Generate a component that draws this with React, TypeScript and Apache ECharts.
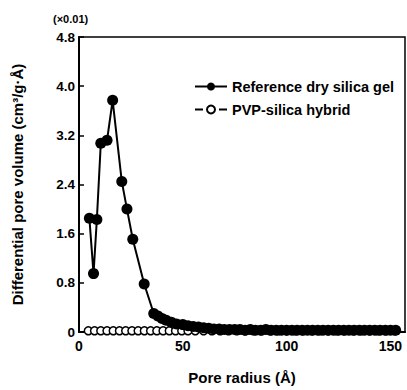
import React, { useEffect, useRef } from "react";
import * as echarts from "echarts";

const seriesNames = ["Reference dry silica gel", "PVP-silica hybrid"];
const yTicks = [0, 0.8, 1.6, 2.4, 3.2, 4.0, 4.8];
const xTicks = [0, 50, 100, 150];

// Reference dry silica gel: [pore radius (Å), differential pore volume (×0.01)]
const referenceGel: [number, number][] = [
  [5.0, 1.85], [7.0, 0.95], [8.6, 1.83], [10.5, 3.07], [13.5, 3.12], [16.2, 3.77],
  [20.6, 2.45], [23.1, 2.0], [25.9, 1.51], [31.4, 0.78], [36.0, 0.3], [38.0, 0.26],
  [40.0, 0.22], [42.0, 0.19], [44.5, 0.16], [47.0, 0.13], [50.0, 0.12], [52.5, 0.1],
  [55.0, 0.09], [57.5, 0.08], [60.0, 0.07], [62.5, 0.06], [65.0, 0.05], [67.5, 0.05],
  [70.0, 0.04], [72.5, 0.04], [75.0, 0.04], [77.5, 0.04], [80.0, 0.03], [82.5, 0.04],
  [85.0, 0.03], [87.5, 0.03], [90.0, 0.04], [92.5, 0.03], [95.0, 0.03], [97.5, 0.03],
  [100.0, 0.03], [102.5, 0.03], [105.0, 0.03], [107.5, 0.03], [110.0, 0.03], [112.5, 0.03],
  [115.0, 0.03], [117.5, 0.03], [120.0, 0.03], [122.5, 0.03], [125.0, 0.03], [127.5, 0.03],
  [130.0, 0.03], [132.5, 0.03], [135.0, 0.03], [137.5, 0.03], [140.0, 0.03], [142.5, 0.03],
  [145.0, 0.03], [147.5, 0.03], [150.0, 0.03], [152.5, 0.03],
];

// PVP-silica hybrid
const pvpHybrid: [number, number][] = [
  [4.5, 0.02], [7.5, 0.02], [10.5, 0.02], [13.5, 0.02], [16.5, 0.02], [19.5, 0.02],
  [22.5, 0.02], [25.5, 0.02], [28.5, 0.02], [31.5, 0.02], [34.5, 0.02], [37.5, 0.02],
  [40.5, 0.02], [43.5, 0.02], [46.5, 0.02], [49.5, 0.02], [52.5, 0.02], [56.0, 0.02],
  [60.0, 0.02], [64.0, 0.02], [68.0, 0.02], [72.0, 0.02], [76.0, 0.02], [80.0, 0.02],
  [84.0, 0.02], [88.0, 0.02], [92.0, 0.02], [96.0, 0.02], [100.0, 0.02], [104.0, 0.02],
  [108.0, 0.02], [112.0, 0.02], [116.0, 0.02], [120.0, 0.02], [124.0, 0.02], [128.0, 0.02],
  [132.0, 0.02], [136.0, 0.02], [140.0, 0.02], [144.0, 0.02], [148.0, 0.02], [152.0, 0.02],
];

const FONT = "'Liberation Sans', Arial, sans-serif";

export default function App() {
  const ref = useRef<HTMLDivElement>(null);
  useEffect(() => {
    if (!ref.current) return;
    const chart = echarts.init(ref.current, undefined, { renderer: "svg" });
    chart.setOption({
      animation: false,
      backgroundColor: "#ffffff",
      textStyle: { fontFamily: FONT },
      grid: {
        left: 79,
        top: 37,
        right: 2,
        bottom: 54,
        show: true,
        borderColor: "#000",
        borderWidth: 1.5,
      },
      graphic: [
        {
          type: "text",
          left: 53,
          top: 13,
          style: { text: "(×0.01)", fontSize: 11, fontWeight: "bold", fill: "#000", fontFamily: FONT },
        },
      ],
      legend: {
        orient: "vertical",
        left: 189,
        top: 74,
        itemWidth: 32,
        itemHeight: 10,
        itemGap: 8,
        textStyle: { fontSize: 14.5, fontWeight: "bold", color: "#000", fontFamily: FONT },
        data: [
          { name: seriesNames[0] },
          { name: seriesNames[1] },
        ],
      },
      xAxis: {
        type: "value",
        min: xTicks[0],
        max: 157,
        interval: 50,
        name: "Pore radius (Å)",
        nameLocation: "middle",
        nameGap: 38,
        nameTextStyle: { fontSize: 15, fontWeight: "bold", color: "#000", fontFamily: FONT },
        axisLine: { show: true, lineStyle: { color: "#000", width: 2 } },
        axisTick: { show: false },
        axisLabel: {
          showMaxLabel: false,
          fontSize: 14,
          fontWeight: "bold",
          color: "#000",
          margin: 7,
          formatter: (v: number) => (xTicks.includes(v) ? String(v) : ""),
        },
        splitLine: { show: false },
      },
      yAxis: {
        type: "value",
        min: yTicks[0],
        max: yTicks[yTicks.length - 1],
        interval: 0.8,
        name: "Differential pore volume (cm³/g·Å)",
        nameLocation: "middle",
        nameGap: 54,
        nameTextStyle: { fontSize: 15, fontWeight: "bold", color: "#000", fontFamily: FONT },
        axisLine: { show: true, lineStyle: { color: "#000", width: 2 } },
        axisTick: { show: true, inside: true, length: 5, lineStyle: { color: "#000", width: 1.5 } },
        axisLabel: {
          fontSize: 13.5,
          fontWeight: "bold",
          color: "#000",
          margin: 4,
          formatter: (v: number) => {
            const r = Math.round(v * 10) / 10;
            return r === 0 ? "0" : r.toFixed(1);
          },
        },
        splitLine: { show: false },
      },
      series: [
        {
          name: seriesNames[1],
          type: "line",
          data: pvpHybrid,
          symbol: "circle",
          symbolSize: 8,
          lineStyle: { color: "#000", width: 1, type: "dashed" },
          itemStyle: { color: "#fff", borderColor: "#000", borderWidth: 1.5 },
          z: 2,
        },
        {
          name: seriesNames[0],
          type: "line",
          data: referenceGel,
          symbol: "circle",
          symbolSize: 11,
          lineStyle: { color: "#000", width: 2 },
          itemStyle: { color: "#000", borderColor: "#000", borderWidth: 0 },
          z: 3,
        },
      ],
    });
    return () => chart.dispose();
  }, []);
  return <div ref={ref} style={{ width: 407, height: 390, position: "absolute", left: 0, top: 0 }} />;
}
